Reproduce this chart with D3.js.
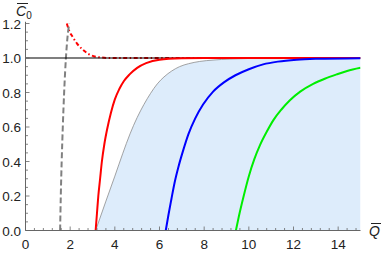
<!DOCTYPE html>
<html>
<head>
<meta charset="utf-8">
<script src="https://cdn.jsdelivr.net/npm/d3@7"></script>
<style>
  body { margin: 0; background: #fff; }
  svg { display: block; font-family: "Liberation Sans", Arial, sans-serif; }
</style>
</head>
<body>
<svg id="chart" width="382" height="253"></svg>
<script>
// chart data
const xTicks = [0, 2, 4, 6, 8, 10, 12, 14];
const yTicks = [0.0, 0.2, 0.4, 0.6, 0.8, 1.0, 1.2];

// thin gray border of the shaded region
const grayCurve = [[3.14,0],[3.6,0.17],[4.0,0.315],[4.35,0.445],[4.68,0.56],[5.0,0.655],[5.3,0.73],
  [5.6,0.795],[5.9,0.85],[6.2,0.89],[6.55,0.925],[6.9,0.95],[7.3,0.967],[7.8,0.98],[8.4,0.988],
  [9.15,0.994],[11,0.999],[15,1.0]];

const redCurve = [[3.14,0],[3.2,0.1],[3.26,0.2],[3.34,0.3],[3.42,0.4],[3.53,0.5],[3.66,0.59],[3.82,0.68],
  [4.0,0.76],[4.2,0.82],[4.4,0.865],[4.66,0.905],[5.0,0.943],[5.4,0.97],[6.0,0.99],[7,0.998],[8,1.0],[15,1.0]];

const blueCurve = [[6.28,0],[6.4,0.09],[6.53,0.18],[6.68,0.28],[6.85,0.37],[7.05,0.46],[7.3,0.56],[7.6,0.65],
  [7.95,0.73],[8.4,0.805],[8.9,0.86],[9.4,0.9],[10.0,0.935],[10.64,0.963],[11.3,0.979],[12.14,0.99],
  [13,0.995],[15,0.999]];

const greenCurve = [[9.42,0],[9.55,0.08],[9.75,0.19],[10.0,0.315],[10.25,0.415],[10.5,0.495],[10.8,0.572],
  [11.1,0.64],[11.45,0.7],[11.84,0.755],[12.3,0.805],[12.88,0.85],[13.4,0.88],[13.93,0.905],[14.4,0.925],
  [15,0.943]];

const grayDashed = [[1.55,0],[1.58,0.2],[1.62,0.4],[1.67,0.6],[1.73,0.8],[1.81,1.0],[1.88,1.12],[1.96,1.2]];

const redDashDot = [[1.85,1.2],[1.95,1.16],[2.1,1.125],[2.3,1.085],[2.55,1.05],[2.8,1.025],[3.05,1.01],
  [3.4,1.003],[3.8,1.0],[15,1.0]];

const unitLine = [[0,1],[15,1]];

const svg = d3.select("#chart");

const x = d3.scaleLinear().domain([0, 15]).range([25.5, 360.5]);
const y = d3.scaleLinear().domain([0, 1.2]).range([230.5, 23.5]);

svg.append("defs").append("clipPath").attr("id", "clip")
  .append("rect")
  .attr("x", x(0)).attr("y", y(1.2) - 1)
  .attr("width", x(15) - x(0)).attr("height", y(0) - y(1.2) + 1);

const plot = svg.append("g").attr("clip-path", "url(#clip)");

const line = d3.line().x(d => x(d[0])).y(d => y(d[1])).curve(d3.curveMonotoneX);

// shaded region below the gray curve
const area = d3.area().x(d => x(d[0])).y0(y(0)).y1(d => y(d[1])).curve(d3.curveMonotoneX);
plot.append("path").datum(grayCurve).attr("d", area).attr("fill", "rgb(221,236,251)");

plot.append("path").datum(grayCurve).attr("d", line)
  .attr("fill", "none").attr("stroke", "#8c8c8c").attr("stroke-width", 0.8);

plot.append("path").datum(redDashDot).attr("d", line)
  .attr("fill", "none").attr("stroke", "#ff0000").attr("stroke-width", 2)
  .attr("stroke-dasharray", "4,2.5,1.5,2.5");

plot.append("path").datum(grayDashed).attr("d", line)
  .attr("fill", "none").attr("stroke", "#808080").attr("stroke-width", 2)
  .attr("stroke-dasharray", "6,3");

// y = 1 reference line, half-transparent so the red dashes underneath look dark red
plot.append("path").datum(unitLine).attr("d", d3.line().x(d => x(d[0])).y(d => y(d[1])))
  .attr("fill", "none").attr("stroke", "#000").attr("stroke-opacity", 0.5).attr("stroke-width", 2);

const curves = [
  { data: redCurve, color: "#ff0000" },
  { data: blueCurve, color: "#0000ff" },
  { data: greenCurve, color: "#00ee00" }
];
curves.forEach(c => {
  plot.append("path").datum(c.data).attr("d", line)
    .attr("fill", "none").attr("stroke", c.color).attr("stroke-width", 2);
});

// axes, Mathematica style: ticks pointing inward
const axisColor = "#666";
const g = svg.append("g");

g.append("line").attr("x1", x(0)).attr("x2", x(15)).attr("y1", y(0)).attr("y2", y(0))
  .attr("stroke", axisColor).attr("stroke-width", 1);
g.append("line").attr("x1", x(0)).attr("x2", x(0)).attr("y1", y(0)).attr("y2", y(1.21))
  .attr("stroke", axisColor).attr("stroke-width", 1);

d3.range(0, 15.01, 0.4).forEach(v => {
  const major = Math.abs(v / 2 - Math.round(v / 2)) < 1e-6;
  g.append("line").attr("x1", x(v)).attr("x2", x(v))
    .attr("y1", y(0)).attr("y2", y(0) - (major ? 4 : 2.5))
    .attr("stroke", axisColor).attr("stroke-width", 0.8);
});
d3.range(0, 1.201, 0.05).forEach(v => {
  const major = Math.abs(v / 0.2 - Math.round(v / 0.2)) < 1e-6;
  g.append("line").attr("x1", x(0)).attr("x2", x(0) + (major ? 4 : 2.5))
    .attr("y1", y(v)).attr("y2", y(v))
    .attr("stroke", axisColor).attr("stroke-width", 0.8);
});

g.selectAll(".xl").data(xTicks).enter().append("text")
  .attr("x", d => x(d)).attr("y", 249)
  .attr("text-anchor", "middle").attr("font-size", 13.5).attr("fill", "#222")
  .text(d => d);

g.selectAll(".yl").data(yTicks).enter().append("text")
  .attr("x", 21).attr("y", d => y(d) + 5)
  .attr("text-anchor", "end").attr("font-size", 13.5).attr("fill", "#222")
  .text(d => d.toFixed(1));

// axis labels with overbars
const xl = svg.append("text").attr("x", 369).attr("y", 236)
  .attr("font-size", 14).attr("font-style", "italic").attr("fill", "#222");
xl.append("tspan").text("Q");
svg.append("line").attr("x1", 371).attr("x2", 381).attr("y1", 223.5).attr("y2", 223.5)
  .attr("stroke", "#222").attr("stroke-width", 1);

const yl = svg.append("text").attr("x", 16).attr("y", 16)
  .attr("font-size", 14).attr("fill", "#222");
yl.append("tspan").attr("font-style", "italic").text("C");
yl.append("tspan").attr("font-size", 10).attr("dy", 3).text("0");
svg.append("line").attr("x1", 17).attr("x2", 28).attr("y1", 3.5).attr("y2", 3.5)
  .attr("stroke", "#222").attr("stroke-width", 1);
</script>
</body>
</html>
